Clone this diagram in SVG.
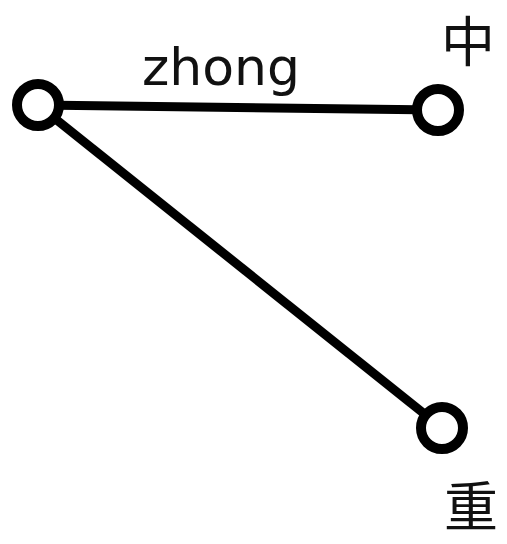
<svg xmlns="http://www.w3.org/2000/svg" width="507" height="544" viewBox="0 0 507 544">
  <style>
    .edge { stroke: #000; stroke-width: 9; fill: none; }
    .node circle { fill: #fff; stroke: #000; stroke-width: 10; }
    .label { font-family: "DejaVu Sans", sans-serif; font-size: 52px; fill: #111; }
    .han { font-family: "Noto Sans CJK SC", sans-serif; font-size: 54px; fill: #111; }
  </style>
  <rect width="507" height="544" fill="#fff"/>
  <g id="connectors">
    <line class="edge" x1="38" y1="105" x2="438" y2="110"/>
    <line class="edge" x1="38" y1="105" x2="442" y2="428"/>
    <text class="label" x="142" y="85">zhong</text>
  </g>
  <g id="node-root" class="node">
    <circle cx="38" cy="105" r="21"/>
  </g>
  <g id="node-zhong1" class="node">
    <circle cx="438" cy="110" r="21"/>
    <text class="han" x="441" y="62">中</text>
  </g>
  <g id="node-zhong4" class="node">
    <circle cx="442" cy="428" r="21"/>
    <text class="han" x="444" y="527" font-size="52">重</text>
  </g>
</svg>
